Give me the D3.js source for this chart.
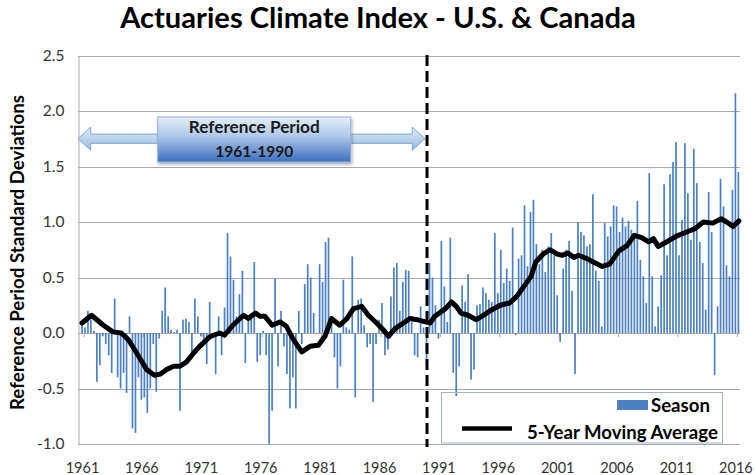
<!DOCTYPE html>
<html><head><meta charset="utf-8">
<script src="https://cdn.jsdelivr.net/npm/d3@7"></script>
<style>
body{margin:0;background:#fff;}
text{font-family:Lato,"Open Sans",sans-serif;}
</style>
</head><body>
<svg id="c" width="756" height="475"></svg>
<script>
// ---------------- DATA ----------------
const startYear = 1961;
const seasonsPerYear = 4;
// Seasonal index values, Winter 1961 ... Spring 2016
const seasonValues = [
  0.08, 0.05, 0.2, 0.12, 0.02, -0.44, -0.29, -0.03, -0.1, -0.2, -0.36, 0.31, -0.4, -0.5, -0.36, -0.54, 0.15, -0.86, -0.9, -0.4,
  -0.6, -0.58, -0.72, -0.5, -0.1, -0.53, -0.05, 0.2, 0.41, 0.15, 0.03, 0.01, 0.03, -0.7, 0.12, 0.13, 0.1, -0.2, 0.31, 0.15,
  -0.03, -0.08, -0.28, 0.28, -0.03, -0.37, 0.15, -0.2, 0.23, 0.9, 0.69, 0.48, 0.15, 0.35, 0.56, -0.27, 0.12, 0.18, 0.64, -0.26,
  -0.2, 0.02, -0.2, -1.0, -0.7, 0.49, -0.3, 0.2, -0.12, -0.37, -0.68, -0.4, -0.68, 0.2, -0.1, 0.44, 0.62, 0.5, 0.18, -0.01,
  0.62, 0.46, 0.82, 0.86, 0.15, -0.22, -0.5, -0.3, 0.48, 0.05, 0.03, 0.69, -0.58, 0.3, 0.31, 0.07, -0.13, -0.1, -0.62, -0.1,
  0.12, 0.27, -0.2, -0.15, 0.33, 0.59, 0.63, 0.2, 0.46, 0.57, 0.56, 0.1, -0.2, -0.22, 0.24, 0.05, -0.3, 0.63, 0.5, 0.25,
  -0.05, 0.83, 0.42, 0.1, 0.86, -0.36, -0.57, -0.3, 0.43, 0.28, 0.53, -0.42, -0.33, 0.25, 0.26, 0.41, 0.36, 0.3, 0.28, 0.9,
  0.36, 0.75, 0.45, 0.58, 0.47, 0.95, -0.02, 0.67, 0.7, 1.15, 0.6, 1.09, 1.2, 0.8, 0.62, 0.75, 0.55, 0.78, 0.9, 0.7,
  0.34, -0.08, 0.58, 0.75, 0.83, 0.38, -0.37, 1.0, 0.91, 0.88, 0.78, 0.8, 1.25, 0.56, 0.47, 0.06, 0.99, 0.87, 0.96, 1.15,
  1.14, 0.91, 1.04, 0.96, 1.01, 0.93, 0.9, 1.19, 0.66, 0.51, 0.27, 1.44, 0.51, 0.06, 0.24, 0.52, 1.34, 0.7, 1.43, 1.54,
  1.72, 0.7, 1.02, 1.71, 1.26, 0.84, 1.66, 1.35, 0.82, 0.63, 0.21, 1.27, 0.91, -0.38, 0.24, 1.39, 1.14, 0.61, 0.51, 1.29,
  2.16, 1.45
];
// 5-year moving average
const maYears = [1961.0, 1961.8, 1962.8, 1963.6, 1964.3, 1964.9, 1965.6, 1966.45, 1967.1, 1967.6, 1968.1, 1968.7, 1969.25, 1969.8, 1970.4, 1970.9, 1971.8, 1972.6, 1973.0, 1973.7, 1974.6, 1975.0, 1975.6, 1976.0, 1976.4, 1977.0, 1977.7, 1978.2, 1978.8, 1979.5, 1980.2, 1980.9, 1981.45, 1982.0, 1982.7, 1983.3, 1983.85, 1984.55, 1985.1, 1985.8, 1986.35, 1986.8, 1987.35, 1988.05, 1988.6, 1989.2, 1989.9, 1990.3, 1990.7, 1991.2, 1991.6, 1992.1, 1992.5, 1992.9, 1993.5, 1994.2, 1994.8, 1995.5, 1996.2, 1997.0, 1997.6, 1998.2, 1998.8, 1999.2, 1999.8, 2000.4, 2001.0, 2001.4, 2001.9, 2002.4, 2002.8, 2003.5, 2004.2, 2004.8, 2005.4, 2006.2, 2006.9, 2007.5, 2008.1, 2008.7, 2009.1, 2009.5, 2010.2, 2011.0, 2011.9, 2012.6, 2013.3, 2014.1, 2014.8, 2015.4, 2015.8, 2016.3];
const maValues = [0.09, 0.16, 0.07, 0.01, 0.0, -0.06, -0.18, -0.33, -0.38, -0.37, -0.33, -0.30, -0.30, -0.26, -0.18, -0.12, -0.03, 0.0, -0.02, 0.07, 0.16, 0.13, 0.18, 0.15, 0.15, 0.07, 0.10, 0.06, -0.06, -0.17, -0.12, -0.11, -0.03, 0.13, 0.07, 0.13, 0.22, 0.24, 0.16, 0.09, 0.03, -0.03, 0.04, 0.09, 0.13, 0.12, 0.10, 0.09, 0.15, 0.19, 0.22, 0.28, 0.24, 0.18, 0.16, 0.12, 0.16, 0.21, 0.25, 0.27, 0.33, 0.42, 0.51, 0.64, 0.71, 0.75, 0.71, 0.70, 0.72, 0.68, 0.70, 0.67, 0.63, 0.60, 0.62, 0.74, 0.79, 0.88, 0.86, 0.82, 0.85, 0.78, 0.82, 0.87, 0.91, 0.94, 1.00, 0.99, 1.03, 0.99, 0.96, 1.01];
const yTicks = [-1.0, -0.5, 0.0, 0.5, 1.0, 1.5, 2.0, 2.5];
const xTickYears = [1961, 1966, 1971, 1976, 1981, 1986, 1991, 1996, 2001, 2006, 2011, 2016];
const referenceStart = 1961;
const referenceEnd = 1990;
const titleText = "Actuaries Climate Index - U.S. & Canada";
const yAxisLabel = "Reference Period Standard Deviations";
const refLabelLines = ["Reference Period", "1961-1990"];
const legendLabels = ["Season", "5-Year Moving Average"];

// ---------------- CHART ----------------
const svg = d3.select("#c");
const plotL = 78, plotR = 740;
const x = d3.scaleLinear().domain([1961, 2016]).range([82, 735.4]);
const y = d3.scaleLinear().domain([-1, 2.5]).range([444, 55.5]);
const barColor = "#4d80c2";

const defs = svg.append("defs");
function vGrad(id, stops) {
  const g = defs.append("linearGradient").attr("id", id).attr("x1", 0).attr("y1", 0).attr("x2", 0).attr("y2", 1);
  stops.forEach(s => g.append("stop").attr("offset", s[0]).attr("stop-color", s[1]));
}
vGrad("gBox", [["0%", "#e6eef8"], ["40%", "#b3cbeb"], ["100%", "#3a6fbd"]]);
vGrad("gArrow", [["0%", "#e1ebf7"], ["100%", "#98b9e2"]]);
const f = defs.append("filter").attr("id", "shadow").attr("x", "-10%").attr("y", "-10%").attr("width", "130%").attr("height", "140%");
f.append("feDropShadow").attr("dx", 1).attr("dy", 2).attr("stdDeviation", 1.5).attr("flood-color", "#000").attr("flood-opacity", 0.35);

function fit(sel, target) {
  const n = sel.node();
  const w = n.getComputedTextLength();
  const fs = parseFloat(sel.attr("font-size"));
  if (w > 0) sel.attr("font-size", (fs * target / w).toFixed(2));
}

// gridlines
svg.append("g").selectAll("line").data(yTicks).join("line")
  .attr("x1", plotL).attr("x2", plotR)
  .attr("y1", d => Math.round(y(d)) + 0.5).attr("y2", d => Math.round(y(d)) + 0.5)
  .attr("stroke", "#a9a9a9").attr("stroke-width", 1);

// y axis
const yAxis = svg.append("g").attr("transform", `translate(${plotL + 0.5},0)`)
  .call(d3.axisLeft(y).tickValues(yTicks).tickFormat(d => d.toFixed(1)).tickSize(0).tickSizeOuter(0).tickPadding(14));
yAxis.select(".domain").attr("stroke", "#a9a9a9");
yAxis.selectAll("text").attr("font-size", 15.5).attr("fill", "#333").style("font-family", "Lato, sans-serif");

// x axis labels
const xAxis = svg.append("g").attr("transform", `translate(0,${y(-1)})`)
  .call(d3.axisBottom(x).tickValues(xTickYears).tickFormat(d => String(d)).tickSize(0).tickSizeOuter(0).tickPadding(19));
xAxis.select(".domain").remove();
xAxis.selectAll("text").attr("font-size", 14.5).attr("fill", "#333").style("font-family", "Lato, sans-serif");

// small tick marks on zero line
svg.append("g").selectAll("line").data(xTickYears).join("line")
  .attr("x1", d => x(d) + 2).attr("x2", d => x(d) + 2)
  .attr("y1", y(0)).attr("y2", y(0) + 4)
  .attr("stroke", "#a9a9a9");

// bars
const bw = 1.7;
svg.append("g").selectAll("rect").data(seasonValues).join("rect")
  .attr("x", (d, i) => x(startYear + i / seasonsPerYear) - bw / 2)
  .attr("y", d => y(Math.max(0, d)))
  .attr("width", bw)
  .attr("height", d => Math.max(0.3, Math.abs(y(d) - y(0))))
  .attr("fill", barColor);

// moving average line
const maData = maYears.map((yr, i) => [yr, maValues[i]]);
svg.append("path").datum(maData)
  .attr("d", d3.line().x(d => x(d[0])).y(d => y(d[1])))
  .attr("fill", "none").attr("stroke", "#000").attr("stroke-width", 5)
  .attr("stroke-linejoin", "round").attr("stroke-linecap", "round");

// dashed reference-end line
const xRef = x(referenceEnd) + 0.5;
svg.append("line").attr("x1", xRef).attr("x2", xRef).attr("y1", 55).attr("y2", 447)
  .attr("stroke", "#000").attr("stroke-width", 3).attr("stroke-dasharray", "11,5");

// reference period arrow
const aL = plotL, aR = x(referenceEnd) - 1.5, cy = 138.7, hh = 11.5, sh = 4.6, hl = 12.7;
const arrowPts = [[aL, cy], [aL + hl, cy - hh], [aL + hl, cy - sh], [aR - hl, cy - sh], [aR - hl, cy - hh], [aR, cy],
  [aR - hl, cy + hh], [aR - hl, cy + sh], [aL + hl, cy + sh], [aL + hl, cy + hh]];
svg.append("path").attr("d", "M" + arrowPts.map(p => p.join(",")).join("L") + "Z")
  .attr("fill", "url(#gArrow)").attr("stroke", "#7fa3d3").attr("stroke-width", 1);

const boxCx = (x(referenceStart) + x(referenceEnd)) / 2;
const boxW = 193, boxH = 45, boxY = 117;
svg.append("rect").attr("x", boxCx - boxW / 2).attr("y", boxY).attr("width", boxW).attr("height", boxH)
  .attr("fill", "url(#gBox)").attr("stroke", "#8fb0dc").attr("stroke-width", 1).attr("filter", "url(#shadow)");
const r1 = svg.append("text").attr("x", boxCx).attr("y", 133.3).attr("text-anchor", "middle")
  .attr("font-size", 15).attr("font-weight", "bold").attr("fill", "#1a1a1a").text(refLabelLines[0]);
fit(r1, 131);
const r2 = svg.append("text").attr("x", boxCx).attr("y", 157.3).attr("text-anchor", "middle")
  .attr("font-size", 15).attr("font-weight", "bold").attr("fill", "#1a1a1a").text(refLabelLines[1]);
fit(r2, 78);

// legend
svg.append("rect").attr("x", 441.5).attr("y", 392.5).attr("width", 281).attr("height", 50.5)
  .attr("fill", "none").attr("stroke", "#9fb3cf").attr("stroke-width", 1);
svg.append("rect").attr("x", 617).attr("y", 400).attr("width", 31).attr("height", 10).attr("fill", barColor);
const l1 = svg.append("text").attr("x", 651).attr("y", 411.7).attr("font-size", 16).attr("font-weight", "bold")
  .attr("fill", "#000").text(legendLabels[0]);
fit(l1, 59);
svg.append("line").attr("x1", 462).attr("x2", 512).attr("y1", 428.5).attr("y2", 428.5)
  .attr("stroke", "#000").attr("stroke-width", 4.5);
const l2 = svg.append("text").attr("x", 527).attr("y", 438.5).attr("font-size", 16).attr("font-weight", "bold")
  .attr("fill", "#000").text(legendLabels[1]);
fit(l2, 191);

// title
const t = svg.append("text").attr("x", 378).attr("y", 27.5).attr("text-anchor", "middle")
  .attr("font-size", 22).attr("font-weight", "bold").attr("fill", "#000").text(titleText);
fit(t, 516);

// y axis title
const yl = svg.append("text").attr("transform", "translate(24,252.5) rotate(-90)").attr("text-anchor", "middle")
  .attr("font-size", 16).attr("font-weight", "bold").attr("fill", "#000").text(yAxisLabel);
fit(yl, 315);
</script>
</body></html>
